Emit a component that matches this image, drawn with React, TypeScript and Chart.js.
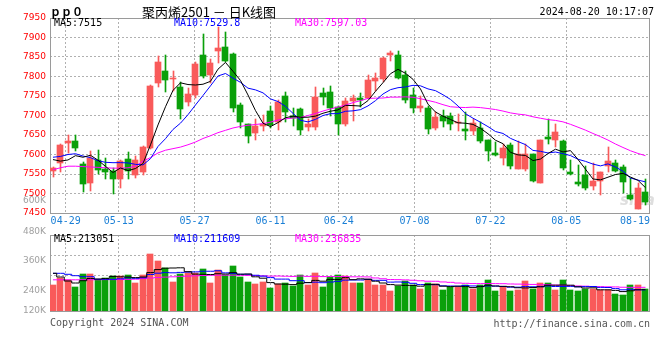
import React, { useEffect, useRef } from "react";
import { Chart, registerables } from "chart.js";

Chart.register(...registerables);

// ---------------- data ----------------
const opens = [
  7558, 7577, 7630, 7634, 7575, 7527, 7585, 7562, 7558, 7537,
  7588, 7548, 7556, 7617, 7784, 7814, 7794, 7773, 7735, 7752,
  7855, 7803, 7866, 7875, 7858, 7726, 7678, 7656, 7673, 7712,
  7683, 7750, 7700, 7717, 7671, 7670, 7757, 7760, 7721, 7677,
  7737, 7746, 7746, 7789, 7793, 7855, 7856, 7803, 7752, 7720,
  7720, 7668, 7698, 7698, 7680, 7665, 7660, 7667, 7637, 7604,
  7591, 7624, 7564, 7562, 7601, 7527, 7644, 7638, 7635, 7555,
  7530, 7548, 7519, 7532, 7570, 7579, 7567, 7497, 7461, 7504,
];
const highs = [
  7568, 7628, 7649, 7649, 7580, 7608, 7611, 7590, 7565, 7585,
  7607, 7595, 7621, 7778, 7852, 7856, 7813, 7785, 7771, 7838,
  7909, 7846, 7928, 7915, 7860, 7731, 7678, 7692, 7702, 7724,
  7740, 7761, 7718, 7719, 7690, 7774, 7771, 7775, 7724, 7746,
  7752, 7758, 7805, 7809, 7849, 7866, 7866, 7815, 7770, 7750,
  7725, 7709, 7714, 7707, 7705, 7708, 7691, 7683, 7637, 7632,
  7626, 7630, 7635, 7628, 7602, 7637, 7690, 7678, 7637, 7585,
  7573, 7570, 7579, 7556, 7618, 7585, 7573, 7541, 7526, 7538,
];
const lows = [
  7543, 7555, 7605, 7609, 7504, 7507, 7550, 7536, 7498, 7513,
  7537, 7540, 7547, 7615, 7773, 7760, 7762, 7691, 7725, 7745,
  7797, 7784, 7835, 7838, 7709, 7667, 7630, 7637, 7660, 7668,
  7663, 7683, 7672, 7649, 7661, 7662, 7728, 7700, 7649, 7672,
  7686, 7723, 7742, 7762, 7786, 7840, 7794, 7731, 7706, 7708,
  7652, 7664, 7671, 7664, 7660, 7637, 7650, 7630, 7583, 7597,
  7573, 7562, 7562, 7558, 7530, 7527, 7626, 7620, 7561, 7547,
  7520, 7508, 7510, 7497, 7555, 7555, 7502, 7483, 7459, 7470,
];
const closes = [
  7566, 7624, 7634, 7616, 7525, 7591, 7561, 7555, 7537, 7583,
  7558, 7587, 7620, 7776, 7838, 7791, 7797, 7717, 7754, 7832,
  7801, 7834, 7873, 7840, 7719, 7683, 7648, 7673, 7678, 7676,
  7734, 7710, 7694, 7662, 7678, 7748, 7747, 7720, 7678, 7737,
  7745, 7741, 7790, 7797, 7848, 7860, 7797, 7739, 7720, 7724,
  7666, 7696, 7685, 7678, 7681, 7661, 7681, 7635, 7608, 7598,
  7617, 7570, 7602, 7601, 7532, 7637, 7640, 7658, 7566, 7549,
  7524, 7515, 7532, 7555, 7583, 7558, 7530, 7485, 7513, 7478,
];
const priceMa5 = [
  7587, 7583, 7586, 7597, 7593, 7598, 7585.4, 7569.6, 7553.8, 7565.4,
  7558.8, 7564, 7577, 7624.8, 7675.8, 7722.4, 7764.4, 7783.8, 7779.4, 7778.2,
  7780.2, 7787.6, 7818.8, 7836, 7813.4, 7789.8, 7752.6, 7712.6, 7680.2, 7671.6,
  7681.8, 7694.2, 7698.4, 7695.2, 7695.6, 7698.4, 7705.8, 7711, 7714.2, 7726,
  7725.4, 7724.2, 7738.2, 7762, 7784.2, 7807.2, 7818.4, 7808.2, 7792.8, 7768,
  7729.2, 7709, 7698.2, 7689.8, 7681.2, 7680.2, 7677.2, 7667.2, 7653.2, 7636.6,
  7627.8, 7605.6, 7599, 7597.6, 7584.4, 7588.4, 7602.4, 7613.6, 7606.6, 7610,
  7587.4, 7562.4, 7537.2, 7535, 7541.8, 7548.6, 7551.6, 7542.2, 7533.8, 7515,
];
const priceMa10 = [
  7593, 7595, 7600, 7602, 7596, 7592, 7584, 7580, 7579, 7579.2,
  7578.4, 7574.7, 7573.3, 7589.3, 7620.6, 7640.6, 7664.2, 7680.4, 7702.1, 7727,
  7751.3, 7776, 7801.3, 7807.7, 7795.8, 7785, 7770.1, 7765.7, 7758.1, 7742.5,
  7735.8, 7723.4, 7705.5, 7687.7, 7683.6, 7690.1, 7700, 7704.7, 7704.7, 7710.8,
  7711.9, 7715, 7724.6, 7738.1, 7755.1, 7766.3, 7771.3, 7773.2, 7777.4, 7776.1,
  7768.2, 7763.7, 7753.2, 7741.3, 7724.6, 7704.7, 7693.1, 7682.7, 7671.5, 7658.9,
  7654, 7641.4, 7633.1, 7625.4, 7610.5, 7608.1, 7604, 7606.3, 7602.1, 7597.2,
  7587.9, 7582.4, 7575.4, 7570.8, 7575.9, 7568, 7557, 7539.7, 7534.4, 7529.8,
];
const priceMa30 = [
  7561, 7566, 7570, 7570, 7569, 7568, 7567, 7566, 7565, 7565,
  7566, 7570, 7583, 7592, 7604, 7611, 7615, 7619, 7625, 7632,
  7641, 7648, 7656, 7662, 7668, 7672, 7675, 7677, 7679, 7682.9,
  7688.5, 7691.4, 7693.4, 7694.9, 7700, 7705.2, 7711.4, 7716.9, 7721.6, 7726.8,
  7733, 7738.1, 7743.8, 7744.5, 7744.8, 7747.1, 7747.1, 7747.9, 7746.7, 7743.1,
  7738.6, 7734, 7727.8, 7722.4, 7721.1, 7720.4, 7721.5, 7720.2, 7717.9, 7715.3,
  7711.4, 7706.7, 7703.6, 7701.6, 7696.7, 7693, 7689.5, 7687.4, 7683.7, 7677.4,
  7670, 7662.5, 7653.9, 7645.8, 7637, 7626.9, 7618, 7609.6, 7602.7, 7597.03,
];
// volume, in thousands of lots
const volumesK = [
  260, 333, 310, 240, 370, 370, 310, 330, 350, 350,
  360, 280, 360, 570, 500, 430, 290, 370, 377, 377,
  420, 280, 410, 360, 450, 340, 290, 270, 290, 230,
  270, 280, 250, 360, 260, 380, 240, 340, 357, 350,
  280, 280, 320, 260, 260, 200, 255, 305, 260, 220,
  280, 270, 210, 240, 240, 260, 220, 260, 310, 200,
  243, 200, 210, 300, 220, 280, 280, 210, 310, 210,
  200, 220, 220, 210, 210, 170, 160, 260, 260, 223,
];
const volMa5K = [
  377, 340, 300, 280, 302.6, 324.6, 320, 324, 346, 342,
  340, 334, 340, 384, 414, 428, 430, 432, 393.4, 368.8,
  366.8, 364.8, 372.8, 369.4, 384, 368, 370, 342, 328, 284,
  270, 268, 264, 278, 284, 306, 298, 316, 315.4, 333.4,
  313.4, 321.4, 317.4, 298, 280, 264, 259, 256, 256, 248,
  264, 267, 248, 244, 248, 244, 234, 244, 258, 250,
  246.6, 242.6, 232.6, 230.6, 234.6, 242, 258, 258, 260, 258,
  242, 230, 232, 212, 212, 206, 194, 202, 212, 213.051,
];
const volMa10K = [
  377, 377, 367, 353, 343, 343, 317, 317, 317, 322.3,
  332.3, 327, 332, 365, 378, 384, 382, 386, 388.7, 391.4,
  397.4, 397.4, 402.4, 381.4, 376.4, 367.4, 367.4, 357.4, 348.7, 334,
  319, 319, 303, 303, 284, 288, 283, 290, 296.7, 308.7,
  309.7, 309.7, 316.7, 306.7, 306.7, 288.7, 290.2, 286.7, 277, 264,
  264, 263, 252, 250, 248, 254, 250.5, 246, 251, 249,
  245.3, 238.3, 238.3, 244.3, 242.3, 244.3, 250.3, 245.3, 245.3, 246.3,
  242, 244, 245, 236, 235, 224, 212, 217, 212, 211.609,
];
const volMa30K = [
  312, 312, 312, 312, 313, 313, 313, 314, 314, 315,
  316, 318, 324, 330, 335, 339, 342, 346, 349, 352,
  355, 357, 358, 358, 358, 357, 356, 354, 351, 349.2,
  349.6, 347.8, 345.8, 349.8, 346.1, 346.5, 344.1, 344.5, 344.7, 344.7,
  342, 342, 340.7, 330.4, 322.4, 314.7, 313.5, 311.4, 307.5, 302.2,
  297.6, 297.2, 290.6, 286.6, 279.6, 276.9, 274.6, 274.2, 274.9, 273.9,
  273, 270.3, 269, 267, 265.7, 262.3, 263.7, 259.3, 257.8, 253.1,
  250.4, 248.4, 245.1, 243.4, 241.8, 240.8, 237.6, 236.1, 236.1, 236.835,
];
const dateTickIndex = [2, 9, 19, 29, 38, 48, 58, 68, 78];
const dateTickLabels = ["04-29", "05-13", "05-27", "06-11", "06-24", "07-08", "07-22", "08-05", "08-19"];
const priceMin = 7450;
const priceMax = 7950;
const priceStep = 50;
const volMaxK = 760;
const volStepK = 200;
const volAxisLabels = ["600K", "480K", "360K", "240K", "120K"];
const symbolText = "ｐｐ０";
const titleText = "聚丙烯2501 － 日K线图";
const timeText = "2024-08-20 10:17:07";
const copyrightText = "Copyright 2024 SINA.COM";
const siteText = "http://finance.sina.com.cn";

// ---------------- styles ----------------
const RED = "#f95a5a";
const GREEN = "#0aa00a";
const GRID = "#b0b0b0";
const FRAME = "#9a9a9a";
const DATE_BLUE = "#1a7fd6";
const MA5C = "#000000";
const MA10C = "#0000ff";
const MA30C = "#ff00ff";
const MONO = '"DejaVu Sans Mono", monospace';
const SANS = '"DejaVu Sans", sans-serif';
const CJK = '"Noto Sans CJK SC", sans-serif';

const N = closes.length;
const idx = closes.map((_, i) => i);
const barColors = closes.map((c, i) => (c >= opens[i] ? RED : GREEN));

// snap bar elements to whole pixels so they look crisp like the original bitmap
const snapBars = {
  id: "snapBars",
  afterDatasetsUpdate(chart: any) {
    chart.data.datasets.forEach((ds: any, di: number) => {
      const meta = chart.getDatasetMeta(di);
      if (meta.type !== "bar") return;
      const off = ds.wick ? 0.5 : 0;
      meta.data.forEach((el: any) => {
        el.x = Math.round(el.x) + off;
        const y = Math.round(el.y);
        const b = Math.round(el.base);
        el.y = y;
        el.base = b === y ? y + 1 : b;
      });
    });
  },
};

const framePlugin = {
  id: "frame",
  beforeDatasetsDraw(chart: any) {
    const { ctx, chartArea: a } = chart;
    ctx.save();
    ctx.strokeStyle = FRAME;
    ctx.lineWidth = 1;
    ctx.strokeRect(Math.round(a.left) + 0.5, Math.round(a.top) + 0.5, Math.round(a.right - a.left), Math.round(a.bottom - a.top));
    ctx.restore();
  },
};

function xScales() {
  return {
    x: {
      type: "linear",
      axis: "x",
      position: "bottom",
      display: false,
      min: -0.4,
      max: N - 0.53,
      offset: false,
      grid: { offset: false },
    },
    xd: {
      type: "linear",
      axis: "x",
      position: "bottom",
      min: -0.066,
      max: 78.91,
      offset: false,
      grid: {
        offset: false,
        drawTicks: false,
        color: (c: any) => (c.index === dateTickIndex.length - 1 ? "rgba(0,0,0,0)" : GRID),
      },
      border: { display: false, dash: [2, 2] },
      ticks: { display: false },
      afterBuildTicks: (s: any) => {
        s.ticks = dateTickIndex.map((v) => ({ value: v }));
      },
      afterFit: (s: any) => {
        s.height = 0;
      },
    },
  };
}

function lineDs(values: number[], color: string, width: number, stepped: any = false) {
  return {
    type: "line",
    data: idx.map((i) => ({ x: i, y: values[i] })),
    borderColor: color,
    borderWidth: width,
    pointRadius: 0,
    tension: 0,
    stepped,
    order: 0,
    xAxisID: "x",
  };
}

const priceTexts = {
  id: "priceTexts",
  beforeDatasetsDraw(chart: any) {
    const { ctx } = chart;
    ctx.save();
    ctx.font = `italic bold 15px ${SANS}`;
    ctx.fillStyle = "rgba(200,200,200,0.6)";
    ctx.textAlign = "left";
    ctx.textBaseline = "middle";
    ctx.fillText("sina", 620, 201);
    ctx.restore();
  },
  afterDraw(chart: any) {
    const { ctx, chartArea: a } = chart;
    ctx.save();
    ctx.textBaseline = "middle";
    ctx.textAlign = "left";
    ctx.fillStyle = "#000";
    ctx.font = `bold 11px ${CJK}`;
    ctx.fillText(symbolText, 50, 12);
    ctx.font = `13px ${CJK}`;
    ctx.fillText(titleText, 142, 12);
    ctx.font = `10px ${MONO}`;
    ctx.textAlign = "right";
    ctx.fillText(timeText, 654, 12);

    // MA legend
    ctx.textAlign = "left";
    const legend: [string, string, number][] = [
      [`MA5:${priceMa5[N - 1]}`, MA5C, 4],
      [`MA10:${priceMa10[N - 1]}`, MA10C, 124],
      [`MA30:${priceMa30[N - 1]}`, MA30C, 245],
    ];
    legend.forEach(([t, c, dx]) => {
      ctx.fillStyle = c;
      ctx.fillText(t, a.left + dx, a.top + 5);
    });

    // date labels along the date axis
    const xd = chart.scales.xd;
    ctx.font = `10px ${MONO}`;
    ctx.fillStyle = DATE_BLUE;
    ctx.textAlign = "center";
    dateTickIndex.forEach((v, k) => {
      const t = dateTickLabels[k];
      const w = ctx.measureText(t).width;
      let x = xd.getPixelForValue(v);
      const maxX = a.right + 1 - w / 2;
      if (x > maxX) x = maxX;
      ctx.fillText(t, x, a.bottom + 8);
    });
    ctx.restore();
  },
};

const volumeTexts = {
  id: "volumeTexts",
  afterDraw(chart: any) {
    const { ctx, chartArea: a } = chart;
    ctx.save();
    ctx.textBaseline = "middle";
    ctx.font = `10px ${MONO}`;
    ctx.textAlign = "left";
    const legend: [string, string, number][] = [
      [`MA5:${Math.round(volMa5K[N - 1] * 1000)}`, MA5C, 4],
      [`MA10:${Math.round(volMa10K[N - 1] * 1000)}`, MA10C, 124],
      [`MA30:${Math.round(volMa30K[N - 1] * 1000)}`, MA30C, 245],
    ];
    legend.forEach(([t, c, dx]) => {
      ctx.fillStyle = c;
      ctx.fillText(t, a.left + dx, a.top + 4);
    });

    // volume axis labels (placed as in the original picture)
    const labelY = [201, 232, 261, 291, 311];
    ctx.font = `9px ${SANS}`;
    ctx.fillStyle = "#a0a0a0";
    ctx.textAlign = "right";
    volAxisLabels.forEach((t, k) => ctx.fillText(t, a.left - 4, labelY[k]));

    // footer
    ctx.font = `10px ${MONO}`;
    ctx.fillStyle = "#555555";
    ctx.textAlign = "left";
    ctx.fillText(copyrightText, a.left, 323);
    ctx.textAlign = "right";
    ctx.fillText(siteText, a.right + 1, 324);
    ctx.restore();
  },
};

function priceConfig(): any {
  return {
    type: "bar",
    data: {
      datasets: [
        lineDs(priceMa5, MA5C, 1),
        lineDs(priceMa10, MA10C, 1),
        lineDs(priceMa30, MA30C, 1),
        {
          type: "bar",
          wick: true,
          data: idx.map((i) => ({ x: i, y: [lows[i], highs[i]] })),
          backgroundColor: barColors,
          barThickness: 1,
          maxBarThickness: 1,
          grouped: false,
          order: 2,
          xAxisID: "x",
        },
        {
          type: "bar",
          data: idx.map((i) => ({ x: i, y: [opens[i], closes[i]] })),
          backgroundColor: barColors,
          barThickness: 6,
          maxBarThickness: 6,
          grouped: false,
          minBarLength: 1,
          order: 1,
          xAxisID: "x",
        },
      ],
    },
    options: {
      responsive: false,
      animation: false,
      devicePixelRatio: 1,
      events: [],
      layout: { padding: { left: 0, top: 18, right: 11, bottom: 147 } },
      plugins: { legend: { display: false }, tooltip: { enabled: false } },
      scales: {
        ...xScales(),
        y: {
          type: "linear",
          position: "left",
          min: priceMin,
          max: priceMax,
          beginAtZero: false,
          grid: { color: GRID, drawTicks: false },
          border: { display: false, dash: [2, 2] },
          ticks: {
            stepSize: priceStep,
            color: "#ff0000",
            font: { family: SANS, size: 9 },
            padding: 4,
            callback: (v: any) => String(v),
          },
          afterFit: (s: any) => {
            s.width = 50;
          },
        },
      },
    },
    plugins: [snapBars, framePlugin, priceTexts],
  };
}

function volumeConfig(): any {
  return {
    type: "bar",
    data: {
      datasets: [
        lineDs(volMa5K, MA5C, 1, "middle"),
        lineDs(volMa10K, MA10C, 1, "middle"),
        lineDs(volMa30K, MA30C, 1, "middle"),
        {
          type: "bar",
          data: idx.map((i) => ({ x: i, y: volumesK[i] })),
          backgroundColor: barColors,
          barThickness: 6,
          maxBarThickness: 6,
          grouped: false,
          order: 1,
          xAxisID: "x",
        },
      ],
    },
    options: {
      responsive: false,
      animation: false,
      devicePixelRatio: 1,
      events: [],
      layout: { padding: { left: 0, top: 235, right: 11, bottom: 49 } },
      plugins: { legend: { display: false }, tooltip: { enabled: false } },
      scales: {
        ...xScales(),
        y: {
          type: "linear",
          position: "left",
          min: 0,
          max: volMaxK,
          beginAtZero: true,
          grid: { color: GRID, drawTicks: false },
          border: { display: false, dash: [2, 2] },
          ticks: { display: false },
          afterBuildTicks: (s: any) => {
            const t: any[] = [];
            for (let v = s.max - volStepK; v > s.min; v -= volStepK) t.push({ value: v });
            s.ticks = t;
          },
          afterFit: (s: any) => {
            s.width = 50;
          },
        },
      },
    },
    plugins: [snapBars, framePlugin, volumeTexts],
  };
}

export default function App() {
  const priceRef = useRef<HTMLCanvasElement>(null);
  const volRef = useRef<HTMLCanvasElement>(null);
  useEffect(() => {
    const pc = new Chart(priceRef.current as HTMLCanvasElement, priceConfig());
    const vc = new Chart(volRef.current as HTMLCanvasElement, volumeConfig());
    return () => {
      pc.destroy();
      vc.destroy();
    };
  }, []);
  return (
    <div style={{ position: "fixed", left: 0, top: 0, width: 660, height: 360, background: "#fff" }}>
      <canvas ref={priceRef} width={660} height={360} style={{ position: "absolute", left: 0, top: 0 }} />
      <canvas ref={volRef} width={660} height={360} style={{ position: "absolute", left: 0, top: 0 }} />
    </div>
  );
}
